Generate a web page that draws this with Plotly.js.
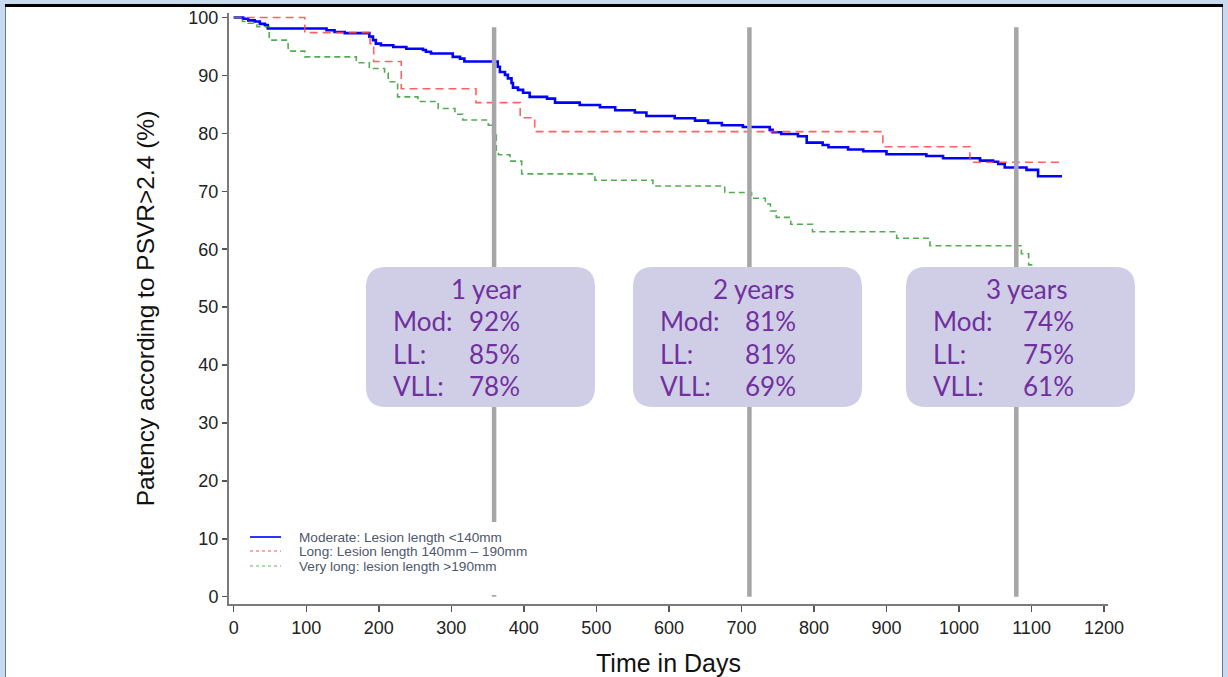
<!DOCTYPE html>
<html><head><meta charset="utf-8">
<script src="https://cdn.plot.ly/plotly-3.0.1.min.js"></script>
<style>
html,body{margin:0;padding:0;background:#fff;width:1228px;height:677px;overflow:hidden;}
#chart{position:absolute;left:0;top:0;width:1228px;height:677px;}
.f{position:absolute;}
</style></head><body>
<div id="chart"></div>
<div class="f" style="left:0;top:0;width:1228px;height:4px;background:#c6dbf0"></div>
<div class="f" style="left:0;top:4px;width:1228px;height:3px;background:#000"></div>
<div class="f" style="left:0;top:0;width:5px;height:677px;background:#c6dbf0"></div>
<div class="f" style="left:5px;top:7px;width:1px;height:670px;background:#6a7a8a"></div>
<div class="f" style="left:1223px;top:0;width:5px;height:677px;background:#c6dbf0"></div>
<div class="f" style="left:1222px;top:7px;width:1px;height:670px;background:#6a7a8a"></div>
<script>
// ---- Data ----
const modDays = [0,13,20,29,36,43,47,128,139,153,187,192,196,203,220,238,261,265,272,302,312,318,364,367,374,378,383,385,392,399,408,432,443,477,505,526,553,569,608,636,654,673,702,739,743,755,778,790,812,820,847,868,900,955,978,1029,1047,1054,1063,1093,1109,1142];
const modPatency = [100,99.8,99.5,99.3,98.9,98.7,98.1,97.8,97.5,97.3,96.7,96.1,95.5,95.2,94.9,94.6,94.4,94.1,93.8,93.2,92.9,92.4,91.5,90.6,90.1,89.5,88.7,87.9,87.5,87.0,86.3,86.0,85.3,84.9,84.5,84.0,83.6,83.0,82.6,82.2,81.8,81.4,81.1,80.6,80.2,79.9,79.5,78.4,78.0,77.6,77.2,76.9,76.4,76.1,75.7,75.3,75.1,74.7,74.1,73.7,72.6,72.6];

const longDays = [0,98,188,193,231,334,395,415,895,1015,1142];
const longPatency = [100,97.4,95.5,92.4,87.7,85.3,82.7,80.3,77.7,75.0,75.0];

const vlongDays = [0,12,20,32,49,75,98,169,187,208,213,226,254,282,305,316,351,357,362,365,381,397,498,578,677,714,733,740,748,768,798,914,960,1086,1096,1100];
const vlongPatency = [100,99.3,99.0,98.4,96.1,94.2,93.2,92.2,91.2,90.4,88.9,86.3,85.5,84.3,83.3,82.3,81.4,79.7,77.1,76.3,75.2,73.0,71.9,70.9,69.8,68.8,67.8,66.6,65.5,64.3,63.0,61.9,60.6,59.2,57.3,55.0];

const seriesNames = ['Moderate: Lesion length <140mm','Long: Lesion length 140mm \u2013 190mm','Very long: lesion length >190mm'];

const markerDays = [359, 711, 1079];
const boxTitles = ['1 year','2 years','3 years'];
const rowLabels = ['Mod:','LL:','VLL:'];
const boxMod = ['92%','81%','74%'];
const boxLL  = ['85%','81%','75%'];
const boxVLL = ['78%','69%','61%'];

const xTicks = [0,100,200,300,400,500,600,700,800,900,1000,1100,1200];
const yTicks = [0,10,20,30,40,50,60,70,80,90,100];

// ---- Layout geometry (pixels) ----
const W = 1228, H = 677;
const M = {l:229, r:120, t:13, b:73};
const PW = W - M.l - M.r, PH = H - M.t - M.b;
const px = x => (x - M.l) / PW;          // pixel x -> paper
const py = y => (H - M.b - y) / PH;      // pixel y -> paper

const traces = [
  {x: modDays, y: modPatency, name: seriesNames[0], type:'scatter', mode:'lines',
   line:{shape:'hv', color:'#0000ff', width:2.6}},
  {x: longDays, y: longPatency, name: seriesNames[1], type:'scatter', mode:'lines',
   line:{shape:'hv', color:'rgba(255,70,70,0.85)', width:1.6, dash:'8px,5px'}},
  {x: vlongDays, y: vlongPatency, name: seriesNames[2], type:'scatter', mode:'lines',
   line:{shape:'hv', color:'rgba(40,150,40,0.8)', width:1.6, dash:'6px,4px'}}
];

const shapes = [];
const annotations = [];

// gray marker lines
markerDays.forEach(d => {
  shapes.push({type:'line', xref:'x', yref:'y', x0:d, x1:d, y0:0, y1:98.3,
    line:{color:'#a6a6a6', width:4.5}, layer:'above'});
});

// legend (white box + samples + text)
shapes.push({type:'rect', xref:'paper', yref:'paper', x0:px(238), x1:px(498), y0:py(595), y1:py(522),
  fillcolor:'#ffffff', line:{width:0}, layer:'above'});
const legY = [537, 551, 566];
const legStyles = [
  {color:'#3030ff', width:2, dash:'solid'},
  {color:'rgba(255,110,110,0.8)', width:1.5, dash:'dot'},
  {color:'rgba(100,190,100,0.7)', width:1.5, dash:'dot'}
];
legY.forEach((y,i) => {
  shapes.push({type:'line', xref:'paper', yref:'paper', x0:px(250), x1:px(281), y0:py(y), y1:py(y),
    line:legStyles[i], layer:'above'});
  annotations.push({xref:'paper', yref:'paper', x:px(297), y:py(y), xanchor:'left', yanchor:'middle',
    text:seriesNames[i], showarrow:false, font:{family:'Liberation Sans, Arial', size:13.6, color:'#4e586c'}});
});

// rounded info boxes
function roundRect(x0, y0, x1, y1, r) {
  const X = v => px(v), Y = v => py(v);
  return `M ${X(x0+r)},${Y(y0)} L ${X(x1-r)},${Y(y0)} Q ${X(x1)},${Y(y0)} ${X(x1)},${Y(y0+r)} ` +
         `L ${X(x1)},${Y(y1-r)} Q ${X(x1)},${Y(y1)} ${X(x1-r)},${Y(y1)} ` +
         `L ${X(x0+r)},${Y(y1)} Q ${X(x0)},${Y(y1)} ${X(x0)},${Y(y1-r)} ` +
         `L ${X(x0)},${Y(y0+r)} Q ${X(x0)},${Y(y0)} ${X(x0+r)},${Y(y0)} Z`;
}
const boxLeft = [366, 633, 906];
const boxWidth = 229;
const boxTop = 267, boxBottom = 407;
const labelLeft = [391, 658, 931];
const valueRight = [522, 798, 1076];
const rowY = [321, 354, 386];
const titleY = 289;
const purple = '#7030a0';
const boxFont = 'Lato, Open Sans, sans-serif';
boxLeft.forEach((bx, i) => {
  shapes.push({type:'path', xref:'paper', yref:'paper', path: roundRect(bx, boxTop, bx+boxWidth, boxBottom, 20),
    fillcolor:'#d0cee6', line:{width:0}, layer:'above'});
  annotations.push({xref:'paper', yref:'paper', x:px(bx + boxWidth/2 + 6), y:py(titleY), xanchor:'center', yanchor:'middle',
    text: boxTitles[i], showarrow:false, font:{family:boxFont, size:26, color:purple}});
  const vals = [boxMod[i], boxLL[i], boxVLL[i]];
  rowLabels.forEach((lab, j) => {
    annotations.push({xref:'paper', yref:'paper', x:px(labelLeft[i]), y:py(rowY[j]), xanchor:'left', yanchor:'middle',
      text: lab, showarrow:false, font:{family:boxFont, size:26, color:purple}});
    annotations.push({xref:'paper', yref:'paper', x:px(valueRight[i]), y:py(rowY[j]), xanchor:'right', yanchor:'middle',
      text: vals[j], showarrow:false, font:{family:boxFont, size:26, color:purple}});
  });
});

const layout = {
  width: W, height: H,
  margin: M,
  paper_bgcolor:'#ffffff', plot_bgcolor:'#ffffff',
  showlegend:false,
  font:{family:'Liberation Sans, Arial, sans-serif', color:'#222'},
  xaxis:{
    range:[-6.5, 1205.4], tickvals:xTicks, ticktext:xTicks.map(String),
    showgrid:false, zeroline:false, showline:true, linecolor:'#7a7a7a', linewidth:2,
    ticks:'outside', ticklen:6, tickwidth:1.5, tickcolor:'#555',
    tickfont:{size:18, color:'#222'},
    title:{text:'Time in Days', font:{size:25, color:'#111'}, standoff:19}
  },
  yaxis:{
    range:[-1.26, 100.78], tickvals:yTicks, ticktext:yTicks.map(String),
    showgrid:false, zeroline:false, showline:true, linecolor:'#7a7a7a', linewidth:2,
    ticks:'outside', ticklen:5, tickwidth:1.5, tickcolor:'#555',
    tickfont:{size:18, color:'#222'},
    title:{text:'Patency according to PSVR>2.4 (%)', font:{size:24.5, color:'#111'}, standoff:27}
  },
  shapes: shapes,
  annotations: annotations
};

Plotly.newPlot('chart', traces, layout, {displayModeBar:false, staticPlot:true});
</script>
</body></html>
